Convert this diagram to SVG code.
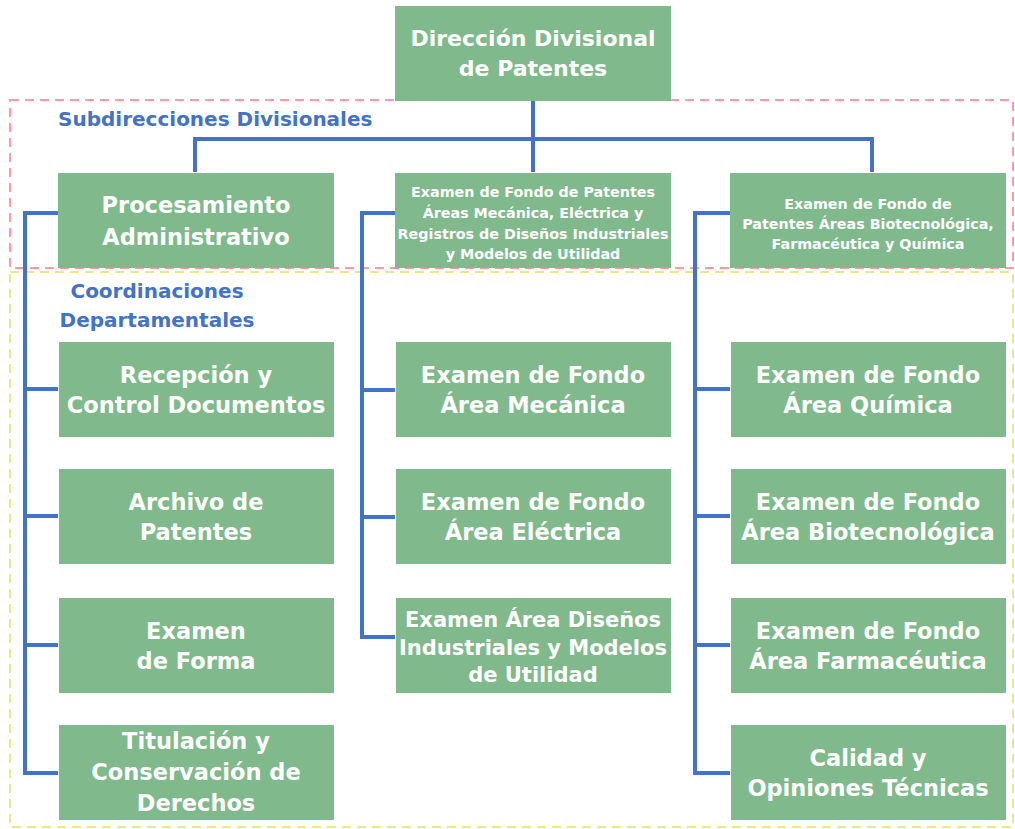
<svg xmlns="http://www.w3.org/2000/svg" width="1015" height="829" viewBox="0 0 1015 829">
<style>
.bg{fill:#ffffff}
.node{fill:#80B98C}
.t{font-family:"DejaVu Sans","Liberation Sans",sans-serif;font-weight:bold;fill:#ffffff;text-anchor:middle}
.big{font-size:22.5px}
.top{font-size:22px}
.mid{font-size:21px}
.sm{font-size:14.3px}
.lbl{font-family:"DejaVu Sans","Liberation Sans",sans-serif;font-weight:bold;fill:#4472C4;font-size:20px}
.conn{fill:none;stroke:#4472C4;stroke-width:4;stroke-linejoin:miter}
.pink{fill:none;stroke:#FF9AA6;stroke-width:2;stroke-dasharray:9 6}
.yellow{fill:none;stroke:#E8E890;stroke-width:2;stroke-dasharray:9 6}
</style>
<rect class="bg" x="0" y="0" width="1015" height="829"/>
<g id="groups">
<rect class="pink" x="10" y="100" width="1003" height="168"/>
<rect class="yellow" x="10" y="272" width="1003" height="555"/>
<text class="lbl" x="58" y="126">Subdirecciones Divisionales</text>
<text class="lbl" x="157" y="298" text-anchor="middle">Coordinaciones</text>
<text class="lbl" x="157" y="327" text-anchor="middle">Departamentales</text>
</g>
<g id="connectors">
<path class="conn" d="M533,101 V172 M195,172 V139 H872 V172"/>
<path class="conn" d="M58,213 H25 V773 H58 M25,389 H58 M25,516 H58 M25,645 H58"/>
<path class="conn" d="M395,213 H362 V637 H395 M362,390 H395 M362,517 H395"/>
<path class="conn" d="M730,213 H695 V773 H730 M695,389 H730 M695,516 H730 M695,645 H730"/>
</g>
<g id="n-direccion">
<rect class="node" x="395" y="6" width="276" height="95"/>
<text class="t top" x="533" y="46">Dirección Divisional</text>
<text class="t top" x="533" y="76">de Patentes</text>
</g>
<g id="n-procesamiento">
<rect class="node" x="58" y="173" width="276" height="95"/>
<text class="t big" x="196" y="213">Procesamiento</text>
<text class="t big" x="196" y="245">Administrativo</text>
</g>
<g id="n-mecanica-sub">
<rect class="node" x="395" y="173" width="276" height="95"/>
<text class="t sm" x="533" y="197">Examen de Fondo de Patentes</text>
<text class="t sm" x="533" y="218">Áreas Mecánica, Eléctrica y</text>
<text class="t sm" x="533" y="239">Registros de Diseños Industriales</text>
<text class="t sm" x="533" y="259">y Modelos de Utilidad</text>
</g>
<g id="n-biotec-sub">
<rect class="node" x="730" y="173" width="276" height="95"/>
<text class="t sm" x="868" y="209">Examen de Fondo de</text>
<text class="t sm" x="868" y="229">Patentes Áreas Biotecnológica,</text>
<text class="t sm" x="868" y="249">Farmacéutica y Química</text>
</g>
<g id="n-recepcion">
<rect class="node" x="59" y="342" width="275" height="95"/>
<text class="t big" x="196" y="383">Recepción y</text>
<text class="t big" x="196" y="413">Control Documentos</text>
</g>
<g id="n-archivo">
<rect class="node" x="59" y="469" width="275" height="95"/>
<text class="t big" x="196" y="510">Archivo de</text>
<text class="t big" x="196" y="540">Patentes</text>
</g>
<g id="n-forma">
<rect class="node" x="59" y="598" width="275" height="95"/>
<text class="t big" x="196" y="639">Examen</text>
<text class="t big" x="196" y="669">de Forma</text>
</g>
<g id="n-titulacion">
<rect class="node" x="59" y="725" width="275" height="95"/>
<text class="t big" x="196" y="749">Titulación y</text>
<text class="t big" x="196" y="780">Conservación de</text>
<text class="t big" x="196" y="811">Derechos</text>
</g>
<g id="n-mecanica">
<rect class="node" x="396" y="342" width="275" height="95"/>
<text class="t big" x="533" y="383">Examen de Fondo</text>
<text class="t big" x="533" y="413">Área Mecánica</text>
</g>
<g id="n-electrica">
<rect class="node" x="396" y="469" width="275" height="95"/>
<text class="t big" x="533" y="510">Examen de Fondo</text>
<text class="t big" x="533" y="540">Área Eléctrica</text>
</g>
<g id="n-disenos">
<rect class="node" x="396" y="598" width="275" height="95"/>
<text class="t mid" x="533" y="627">Examen Área Diseños</text>
<text class="t mid" x="533" y="655">Industriales y Modelos</text>
<text class="t mid" x="533" y="682">de Utilidad</text>
</g>
<g id="n-quimica">
<rect class="node" x="731" y="342" width="275" height="95"/>
<text class="t big" x="868" y="383">Examen de Fondo</text>
<text class="t big" x="868" y="413">Área Química</text>
</g>
<g id="n-biotecnologica">
<rect class="node" x="731" y="469" width="275" height="95"/>
<text class="t big" x="868" y="510">Examen de Fondo</text>
<text class="t big" x="868" y="540">Área Biotecnológica</text>
</g>
<g id="n-farmaceutica">
<rect class="node" x="731" y="598" width="275" height="95"/>
<text class="t big" x="868" y="639">Examen de Fondo</text>
<text class="t big" x="868" y="669">Área Farmacéutica</text>
</g>
<g id="n-calidad">
<rect class="node" x="731" y="725" width="275" height="95"/>
<text class="t big" x="868" y="766">Calidad y</text>
<text class="t big" x="868" y="796">Opiniones Técnicas</text>
</g>
</svg>
